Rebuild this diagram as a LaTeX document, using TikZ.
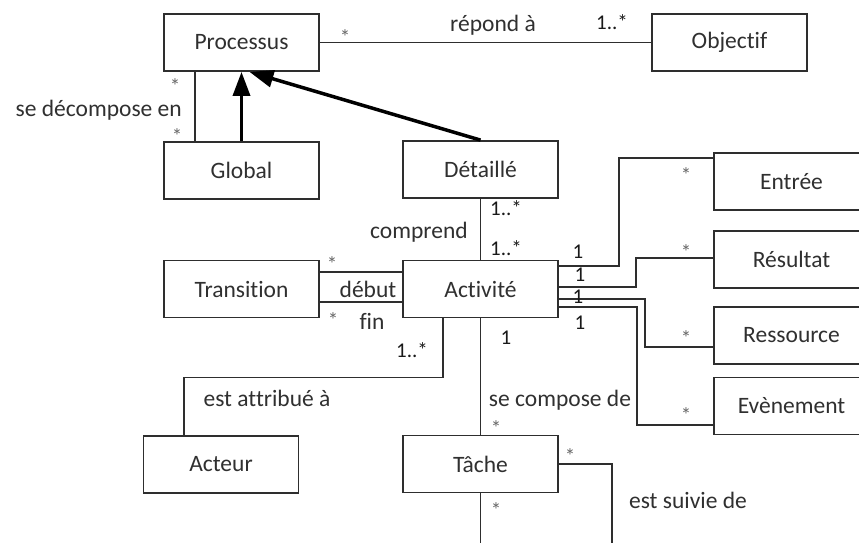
\documentclass[tikz,border=0pt]{standalone}
\usepackage{fontspec}
\setmainfont{Carlito}[Ligatures={NoCommon,NoContextual}]
\usetikzlibrary{arrows.meta,calc}
\definecolor{ink}{HTML}{2E2E2E}
\definecolor{txt}{HTML}{303030}
\begin{document}
\begin{tikzpicture}[x=1pt,y=-1pt,
  cls/.style={draw=ink,line width=1.8pt,minimum width=155pt,minimum height=57pt,inner sep=0pt,font=\fontsize{23.5}{28}\selectfont,text=txt},
  assoc/.style={draw=ink,line width=1.5pt},
  gen/.style={draw=black,line width=3.5pt,-{Triangle[length=24pt,width=17pt]}},
  lbl/.style={font=\fontsize{23.5}{28}\selectfont,text=txt,inner sep=0pt},
  mult/.style={font=\fontsize{21}{24}\selectfont,text=black!90,inner sep=0pt},
  star/.style={font=\fontsize{21}{24}\selectfont,text=black!60,inner sep=0pt}]
\clip (0,0) rectangle (859,542);
\fill[white] (0,0) rectangle (859,542);

% classes
\node[cls] (proc) at (241.5,42.5) {Processus};
\node[cls] (obj) at (729.5,42.5) {Objectif};
\node[cls] (glob) at (241.5,170.5) {Global};
\node[cls] (det) at (480.5,169.5) {Détaillé};
\node[cls] (act) at (480.5,289) {Activité};
\node[cls] (trans) at (241.5,289) {Transition};
\node[cls] (acteur) at (221,464.5) {Acteur};
\node[cls] (tache) at (480.5,464) {Tâche};
\node[cls] (entree) at (791.5,181.5) {Entrée};
\node[cls] (resultat) at (791.5,259.5) {Résultat};
\node[cls] (ressource) at (791.5,335.5) {Ressource};
\node[cls] (evenement) at (791.5,406) {Evènement};

% free ends of the self association (cut by the picture edge)
\coordinate (loopA) at (612,560);
\coordinate (loopB) at (480.5,560);

% associations
\draw[assoc] (proc.east) -- (obj.west);
\draw[assoc] ($(proc.south west)+(32,0)$) -- ($(glob.north west)+(32,0)$);
\draw[assoc] (det.south) -- (act.north);
\draw[assoc] ($(trans.east)+(0,-17)$) -- ($(act.west)+(0,-17)$);
\draw[assoc] ($(trans.east)+(0,13)$) -- ($(act.west)+(0,13)$);
\draw[assoc] ($(act.south)+(-37.5,0)$) -- ++(0,59) -| ($(acteur.north)+(-37,0)$);
\draw[assoc] (act.south) -- (tache.north);
\draw[assoc] (tache.east) -| (loopA);
\draw[assoc] (tache.south) -- (loopB);
\draw[assoc] ($(act.east)+(0,-23)$) -- ++(60,0) |- ($(entree.west)+(0,-23.5)$);
\draw[assoc] ($(act.east)+(0,-2)$) -- ++(77,0) |- ($(resultat.west)+(0,-1.5)$);
\draw[assoc] ($(act.east)+(0,10)$) -- ++(86,0) |- ($(ressource.west)+(0,11.5)$);
\draw[assoc] ($(act.east)+(0,18)$) -- ++(78,0) |- ($(evenement.west)+(0,19)$);

% generalisations
\draw[gen] (glob.north) -- (proc.south);
\draw[gen] (det.north) -- ($(proc.south)+(8,0)$);

% labels
\node[lbl] (l1) at (493,25) {répond à};
\node[lbl,anchor=east] (l2) at (182,110) {se décompose en};
\node[lbl] (l3) at (419,232) {comprend};
\node[lbl] (l4) at (368,289) {début};
\node[lbl] (l5) at (372,321) {fin};
\node[lbl] (l6) at (267,398) {est attribué à};
\node[lbl] (l7) at (560,400) {se compose de};
\node[lbl] (l8) at (688,500) {est suivie de};

% multiplicities
\node[star] (m1) at (345,37) {*};
\node[mult] (m2) at (612,22) {1..*};
\node[star] (m3) at (175,86) {*};
\node[star] (m4) at (177,136) {*};
\node[mult] (m5) at (506,208) {1..*};
\node[mult] (m6) at (506,248) {1..*};
\node[mult] (m7) at (578,252) {1};
\node[mult] (m8) at (580,275) {1};
\node[mult] (m9) at (578,297) {1};
\node[mult] (m10) at (580,323) {1};
\node[mult] (m11) at (506,338) {1};
\node[star] (m12) at (686,175) {*};
\node[star] (m13) at (686,252) {*};
\node[star] (m14) at (686,338) {*};
\node[star] (m15) at (686,415) {*};
\node[star] (m16) at (332,264) {*};
\node[star] (m17) at (333,320) {*};
\node[mult] (m18) at (412,350) {1..*};
\node[star] (m19) at (496,428) {*};
\node[star] (m20) at (570,456) {*};
\node[star] (m21) at (496,510) {*};
\end{tikzpicture}
\end{document}
